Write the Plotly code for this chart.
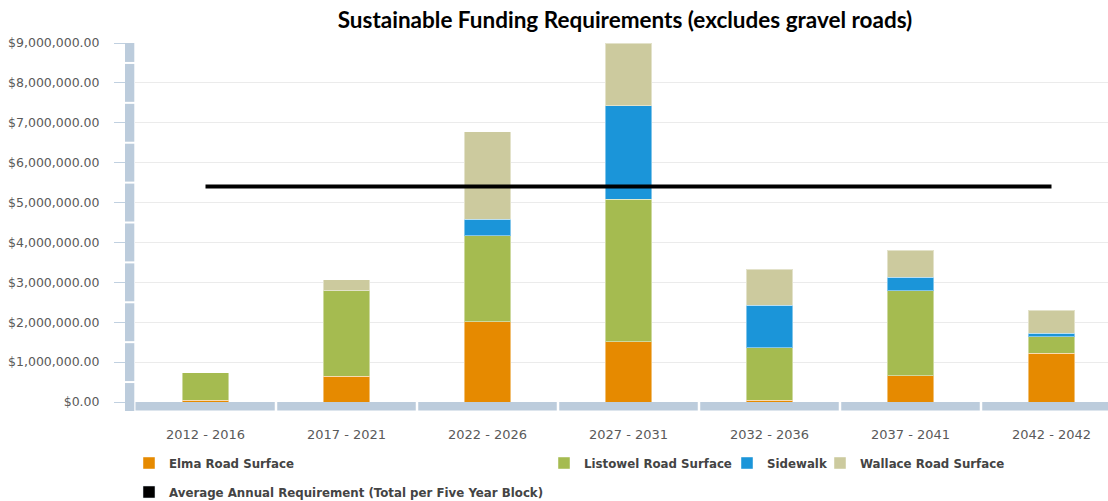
import plotly.graph_objects as go

categories = ["2012 - 2016", "2017 - 2021", "2022 - 2026", "2027 - 2031",
              "2032 - 2036", "2037 - 2041", "2042 - 2042"]
elma = [50000, 650000, 2010000, 1510000, 50000, 660000, 1220000]
listowel = [680000, 2140000, 2160000, 3570000, 1310000, 2130000, 410000]
sidewalk = [0, 0, 410000, 2350000, 1070000, 340000, 90000]
wallace = [0, 280000, 2200000, 1570000, 900000, 670000, 580000]
average_requirement = 5400000

series_names = ["Elma Road Surface", "Listowel Road Surface", "Sidewalk", "Wallace Road Surface"]
series_values = [elma, listowel, sidewalk, wallace]
series_colors = ["#E68A00", "#A5BB50", "#1B95D9", "#CCCA9E"]
avg_name = "Average Annual Requirement (Total per Five Year Block)"

W, H = 1108, 501
ML, MR, MT, MB = 135, 0, 43, 99
PW = W - ML - MR
PH = H - MT - MB
YMAX = 9000000
XMAX = (W - ML) / 141.0 - 0.5

fig = go.Figure()

legend_pos = [(143, 463), (558, 463), (741, 463), (834, 463)]
for i, (name, vals, col) in enumerate(zip(series_names, series_values, series_colors)):
    lname = "legend" if i == 0 else f"legend{i+1}"
    fig.add_trace(go.Bar(
        x=categories, y=vals, name=name,
        marker=dict(color=col, line=dict(color="rgba(255,255,255,0.45)", width=1)),
        legend=lname,
    ))

# average line
fig.add_trace(go.Scatter(
    x=categories, y=[average_requirement] * len(categories), mode="lines",
    line=dict(color="black", width=4), name=avg_name, showlegend=False,
    legendgroup="avg",
))
# legend entry for the average (square symbol like reference)
fig.add_trace(go.Bar(
    x=categories, y=[None] * len(categories), name=avg_name,
    marker=dict(color="black"), legend="legend5", legendgroup="avg",
    hoverinfo="skip",
))
legend_pos.append((143, 492))

def px2paper_x(px):
    return (px - ML) / PW

def px2paper_y(py):
    return (H - MB - py) / PH

legend_layouts = {}
for i, (sx, sy) in enumerate(legend_pos):
    key = "legend" if i == 0 else f"legend{i+1}"
    legend_layouts[key] = dict(
        x=px2paper_x(sx - 14), y=px2paper_y(sy), xanchor="left", yanchor="middle",
        orientation="h", bgcolor="rgba(0,0,0,0)",
        font=dict(family="DejaVu Sans", size=11.8, color="#444444", weight="bold"),
        itemclick=False, itemdoubleclick=False,
    )

shapes = []
axis_col = "#BCCCDC"
# left vertical axis bar
shapes.append(dict(type="rect", xref="paper", yref="paper",
                   x0=px2paper_x(125), x1=px2paper_x(134.3),
                   y0=px2paper_y(411), y1=1.0,
                   fillcolor=axis_col, line=dict(width=0), layer="above"))
for k in range(9):
    yv = (k + 0.5) * 1000000 / YMAX
    shapes.append(dict(type="line", xref="paper", yref="paper",
                       x0=px2paper_x(124), x1=px2paper_x(135), y0=yv, y1=yv,
                       line=dict(color="white", width=2), layer="above"))
# bottom horizontal axis bar
shapes.append(dict(type="rect", xref="x", yref="paper",
                   x0=-0.5 + 0.5 / 141, x1=XMAX + 1,
                   y0=px2paper_y(410.5), y1=0,
                   fillcolor=axis_col, line=dict(width=0), layer="above"))
for k in range(len(categories)):
    xv = k + 0.5
    shapes.append(dict(type="line", xref="x", yref="paper",
                       x0=xv, x1=xv, y0=px2paper_y(412), y1=px2paper_y(400),
                       line=dict(color="white", width=2.5), layer="above"))

fig.update_layout(
    width=W, height=H,
    margin=dict(l=ML, r=MR, t=MT, b=MB, autoexpand=False),
    paper_bgcolor="white", plot_bgcolor="white",
    barmode="stack", bargap=0.667,
    title=dict(text="Sustainable Funding Requirements (excludes gravel roads)",
               x=px2paper_x(625), xanchor="center", xref="paper",
               y=1 - 20 / H, yanchor="middle",
               font=dict(family="Lato", size=22.5, color="black", weight="bold")),
    xaxis=dict(range=[-0.5, XMAX], showgrid=False, zeroline=False, showline=False,
               ticks="", tickfont=dict(family="DejaVu Sans", size=13, color="#5A5A5A"),
               ticklabelstandoff=23),
    yaxis=dict(range=[0, YMAX], tickvals=[i * 1000000 for i in range(10)],
               tickformat="$,.2f", showgrid=True, gridcolor="#EBEBEB", gridwidth=1,
               zeroline=False, showline=False, ticks="outside", ticklen=20,
               tickcolor="#C0D0E0", tickwidth=1,
               tickfont=dict(family="DejaVu Sans", size=12.5, color="#5A5A5A"),
               ticklabelstandoff=12),
    shapes=shapes,
    hovermode=False,
    **legend_layouts,
)

fig.write_html("out.html", config={"displayModeBar": False},
               post_script="document.body.style.margin='0';")
